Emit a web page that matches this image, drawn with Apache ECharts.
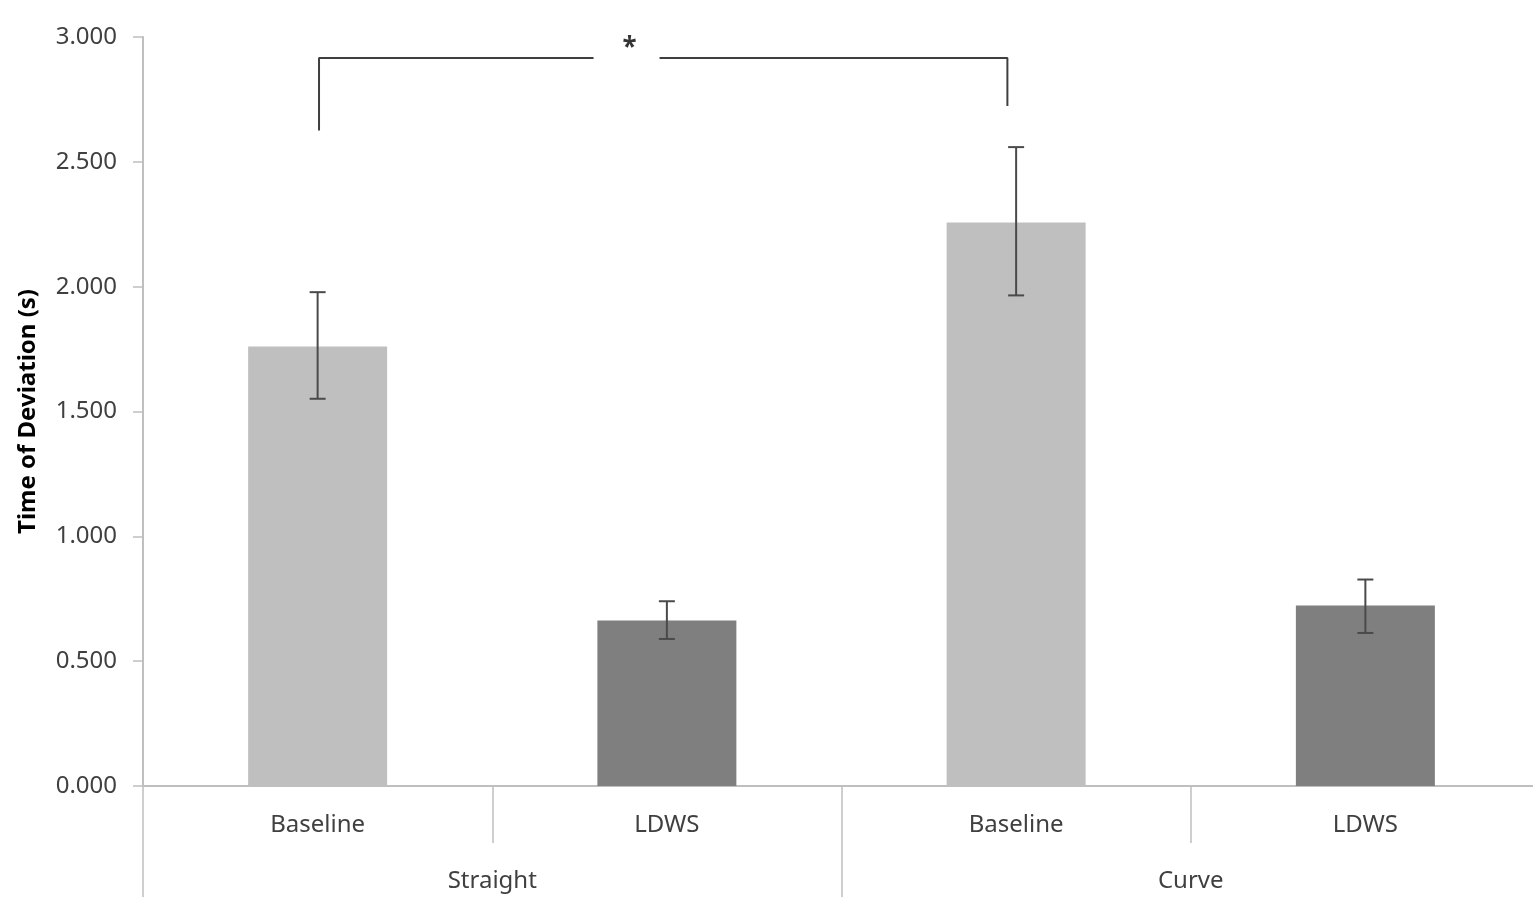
<!DOCTYPE html>
<html>
<head>
<meta charset="utf-8">
<script src="https://cdn.jsdelivr.net/npm/echarts@6/dist/echarts.min.js"></script>
<style>html,body{margin:0;padding:0;background:#fff}#c{width:1533px;height:900px}</style>
</head>
<body>
<div id="c"></div>
<script>
// ---- data ----
const conditions = ['Baseline', 'LDWS', 'Baseline', 'LDWS'];
const groups = ['Straight', 'Curve'];
const means = [1.760, 0.663, 2.257, 0.723];
const errUpper = [1.978, 0.740, 2.559, 0.827];
const errLower = [1.551, 0.589, 1.965, 0.613];
const yTicks = [0, 0.5, 1.0, 1.5, 2.0, 2.5, 3.0];
// significance bracket (positions in category units along x, values on y)
const bracketLeft = [[0.504, 2.626], [0.504, 2.916], [1.290, 2.916]];
const bracketRight = [[1.479, 2.916], [2.475, 2.916], [2.475, 2.724]];
const starPoint = [[1.393, 2.955]];

const barColors = { 'Baseline': '#bfbfbf', 'LDWS': '#7f7f7f' };
const FONT = 'Noto Sans';

const chart = echarts.init(document.getElementById('c'));
chart.setOption({
  animation: false,
  backgroundColor: '#ffffff',
  grid: { left: 143, width: 1397, top: 37, bottom: 114, containLabel: false, outerBoundsMode: 'none' },
  xAxis: [
    {
      type: 'category', data: conditions, position: 'bottom',
      axisLine: { show: true, lineStyle: { color: '#bfbfbf', width: 2 } },
      axisTick: { show: true, alignWithLabel: false, interval: 0, length: 57, lineStyle: { color: '#bfbfbf', width: 1.5 } },
      axisLabel: { interval: 0, margin: 27, fontFamily: FONT, fontSize: 24, color: '#404040' }
    },
    {
      type: 'category', data: groups, position: 'bottom',
      axisLine: { show: false },
      axisTick: { show: true, alignWithLabel: false, interval: 0, length: 111, lineStyle: { color: '#bfbfbf', width: 1.5 } },
      axisLabel: { interval: 0, margin: 83, fontFamily: FONT, fontSize: 24, color: '#404040' }
    },
    { type: 'value', min: 0, max: 4, show: false }
  ],
  yAxis: {
    type: 'value', min: yTicks[0], max: yTicks[yTicks.length - 1], interval: 0.5,
    name: 'Time of Deviation (s)', nameLocation: 'middle', nameGap: 103, nameRotate: 90,
    nameTextStyle: { fontFamily: FONT, fontSize: 24, fontWeight: 'bold', color: '#000' },
    axisLine: { show: true, lineStyle: { color: '#bfbfbf', width: 2 } },
    axisTick: { show: true, length: 10, lineStyle: { color: '#bfbfbf', width: 1.5 } },
    splitLine: { show: false },
    axisLabel: { margin: 26, fontFamily: FONT, fontSize: 24, color: '#404040', formatter: v => v.toFixed(3) }
  },
  series: [
    {
      type: 'bar', xAxisIndex: 0, barWidth: 139,
      data: means.map((v, i) => ({ value: v, itemStyle: { color: barColors[conditions[i]] } }))
    },
    {
      type: 'custom', xAxisIndex: 0, z: 5,
      data: means.map((v, i) => [i, errLower[i], errUpper[i]]),
      renderItem: function (params, api) {
        const x = api.value(0);
        const lo = api.coord([x, api.value(1)]);
        const hi = api.coord([x, api.value(2)]);
        const cap = 8;
        const st = { stroke: '#4a4a4a', lineWidth: 2 };
        return {
          type: 'group', children: [
            { type: 'line', shape: { x1: hi[0], y1: hi[1], x2: lo[0], y2: lo[1] }, style: st },
            { type: 'line', shape: { x1: hi[0] - cap, y1: hi[1], x2: hi[0] + cap, y2: hi[1] }, style: st },
            { type: 'line', shape: { x1: lo[0] - cap, y1: lo[1], x2: lo[0] + cap, y2: lo[1] }, style: st }
          ]
        };
      }
    },
    {
      type: 'line', xAxisIndex: 2, data: bracketLeft, symbol: 'none',
      lineStyle: { color: '#3f3f3f', width: 2 }, z: 6
    },
    {
      type: 'line', xAxisIndex: 2, data: bracketRight, symbol: 'none',
      lineStyle: { color: '#3f3f3f', width: 2 }, z: 6
    },
    {
      type: 'scatter', xAxisIndex: 2, data: starPoint, symbolSize: 0,
      label: { show: true, position: 'inside', formatter: '*', fontFamily: FONT, fontSize: 26, fontWeight: 'bold', color: '#000' }
    }
  ]
});
</script>
</body>
</html>
